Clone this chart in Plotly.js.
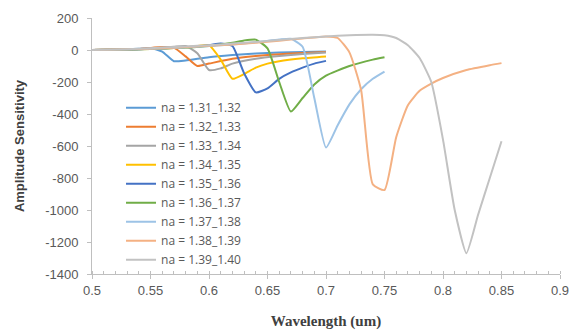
<!DOCTYPE html>
<html>
<head>
<meta charset="utf-8">
<script src="https://cdn.plot.ly/plotly-3.0.1.min.js"></script>
<style>html,body{margin:0;padding:0;background:#fff;}#chart{width:577px;height:330px;}</style>
</head>
<body>
<div id="chart"></div>
<script>
// Series names
var names = ["na = 1.31_1.32","na = 1.32_1.33","na = 1.33_1.34","na = 1.34_1.35","na = 1.35_1.36","na = 1.36_1.37","na = 1.37_1.38","na = 1.38_1.39","na = 1.39_1.40"];

// Wavelength (um) samples and amplitude sensitivity for each series
var wl1 = [0.50,0.52,0.54,0.55,0.56,0.57,0.58,0.60,0.62,0.64,0.66,0.68,0.70];
var as1 = [0,3,8,12,-10,-70,-65,-45,-32,-22,-16,-12,-10];

var wl2 = [0.50,0.52,0.54,0.56,0.57,0.58,0.59,0.60,0.62,0.64,0.66,0.68,0.70];
var as2 = [0,3,6,18,15,-40,-100,-85,-55,-38,-26,-18,-12];

var wl3 = [0.50,0.52,0.54,0.56,0.57,0.58,0.59,0.60,0.61,0.62,0.64,0.66,0.68,0.70];
var as3 = [0,2,5,14,20,25,-20,-125,-115,-85,-55,-38,-25,-15];

var wl4 = [0.50,0.52,0.54,0.56,0.58,0.59,0.60,0.61,0.62,0.63,0.64,0.65,0.66,0.68,0.70];
var as4 = [0,2,4,9,15,25,30,-60,-180,-150,-110,-85,-70,-52,-40];

var wl5 = [0.50,0.52,0.54,0.56,0.58,0.60,0.61,0.62,0.63,0.64,0.65,0.66,0.67,0.68,0.69,0.70];
var as5 = [0,2,5,10,18,30,40,25,-145,-265,-240,-180,-140,-110,-85,-68];

var wl6 = [0.50,0.52,0.54,0.56,0.58,0.60,0.62,0.63,0.64,0.65,0.66,0.67,0.68,0.69,0.70,0.72,0.74,0.75];
var as6 = [0,2,5,9,15,25,45,60,65,10,-200,-385,-300,-215,-160,-100,-60,-45];

var wl7 = [0.50,0.54,0.58,0.60,0.62,0.64,0.66,0.67,0.68,0.69,0.70,0.71,0.72,0.73,0.74,0.75];
var as7 = [0,5,16,25,35,48,65,70,20,-300,-610,-470,-340,-245,-180,-135];

var wl8 = [0.50,0.54,0.58,0.62,0.66,0.68,0.70,0.71,0.72,0.73,0.74,0.75,0.76,0.77,0.78,0.79,0.80,0.82,0.84,0.85];
var as8 = [0,6,18,35,58,72,85,75,-15,-250,-840,-875,-545,-345,-255,-210,-175,-125,-95,-82];

var wl9 = [0.50,0.52,0.54,0.56,0.58,0.60,0.62,0.64,0.66,0.68,0.70,0.72,0.74,0.75,0.76,0.77,0.78,0.79,0.80,0.81,0.82,0.83,0.84,0.85];
var as9 = [0,3,8,15,22,30,40,50,62,75,85,92,95,92,75,30,-50,-200,-560,-1000,-1270,-1030,-800,-570];

var xTickVals = [0.5,0.55,0.6,0.65,0.7,0.75,0.8,0.85,0.9];
var xTickText = ["0.5","0.55","0.6","0.65","0.7","0.75","0.8","0.85","0.9"];
var yTickVals = [200,0,-200,-400,-600,-800,-1000,-1200,-1400];
var yTickText = ["200","0","-200","-400","-600","-800","-1000","-1200","-1400"];

var colors = ["#5B9BD5","#ED7D31","#A5A5A5","#FFC000","#4472C4","#70AD47","#9DC3E6","#F4B183","#C2C2C2"];

var xs = [wl1,wl2,wl3,wl4,wl5,wl6,wl7,wl8,wl9];
var ys = [as1,as2,as3,as4,as5,as6,as7,as8,as9];

var traces = names.map(function(n,i){
  return {x: xs[i], y: ys[i], name: n, type: "scatter", mode: "lines",
          line: {color: colors[i], width: 2, shape: "spline", smoothing: 0.5}};
});

var layout = {
  width: 577, height: 330,
  margin: {l: 92, r: 17, t: 18, b: 56},
  paper_bgcolor: "#ffffff", plot_bgcolor: "#ffffff",
  font: {family: "Liberation Sans, Arial, sans-serif", color: "#595959", size: 13},
  showlegend: true,
  legend: {x: 0.062, y: 0.706, xanchor: "left", yanchor: "top", bgcolor: "rgba(0,0,0,0)",
           font: {family: "Open Sans, sans-serif", size: 12, color: "#595959"}, tracegroupgap: 0, itemwidth: 30},
  xaxis: {range: [0.5, 0.9], tickvals: xTickVals, ticktext: xTickText,
          showgrid: false, zeroline: false, showline: true, linecolor: "#BFBFBF", linewidth: 1,
          ticks: "outside", ticklen: 4, tickcolor: "#BFBFBF",
          minor: {ticks: "inside", dtick: 0.01, ticklen: 3, tickcolor: "#BFBFBF", showgrid: false},
          tickfont: {size: 13, color: "#595959"},
          title: {text: "Wavelength (um)", font: {family: "Liberation Serif, Times New Roman, serif", size: 15, color: "#404040", weight: "bold"}, standoff: 18}},
  yaxis: {range: [-1400, 200], tickvals: yTickVals, ticktext: yTickText,
          showgrid: false, zeroline: false, showline: true, linecolor: "#BFBFBF", linewidth: 1,
          ticks: "outside", ticklen: 4, tickcolor: "#BFBFBF",
          tickfont: {size: 13, color: "#595959"}, ticklabelstandoff: 6,
          title: {text: "Amplitude Sensitivity", font: {family: "Liberation Sans, Arial, sans-serif", size: 13, color: "#404040", weight: "bold"}, standoff: 17}}
};

Plotly.newPlot("chart", traces, layout, {displayModeBar: false, staticPlot: true});
</script>
</body>
</html>
